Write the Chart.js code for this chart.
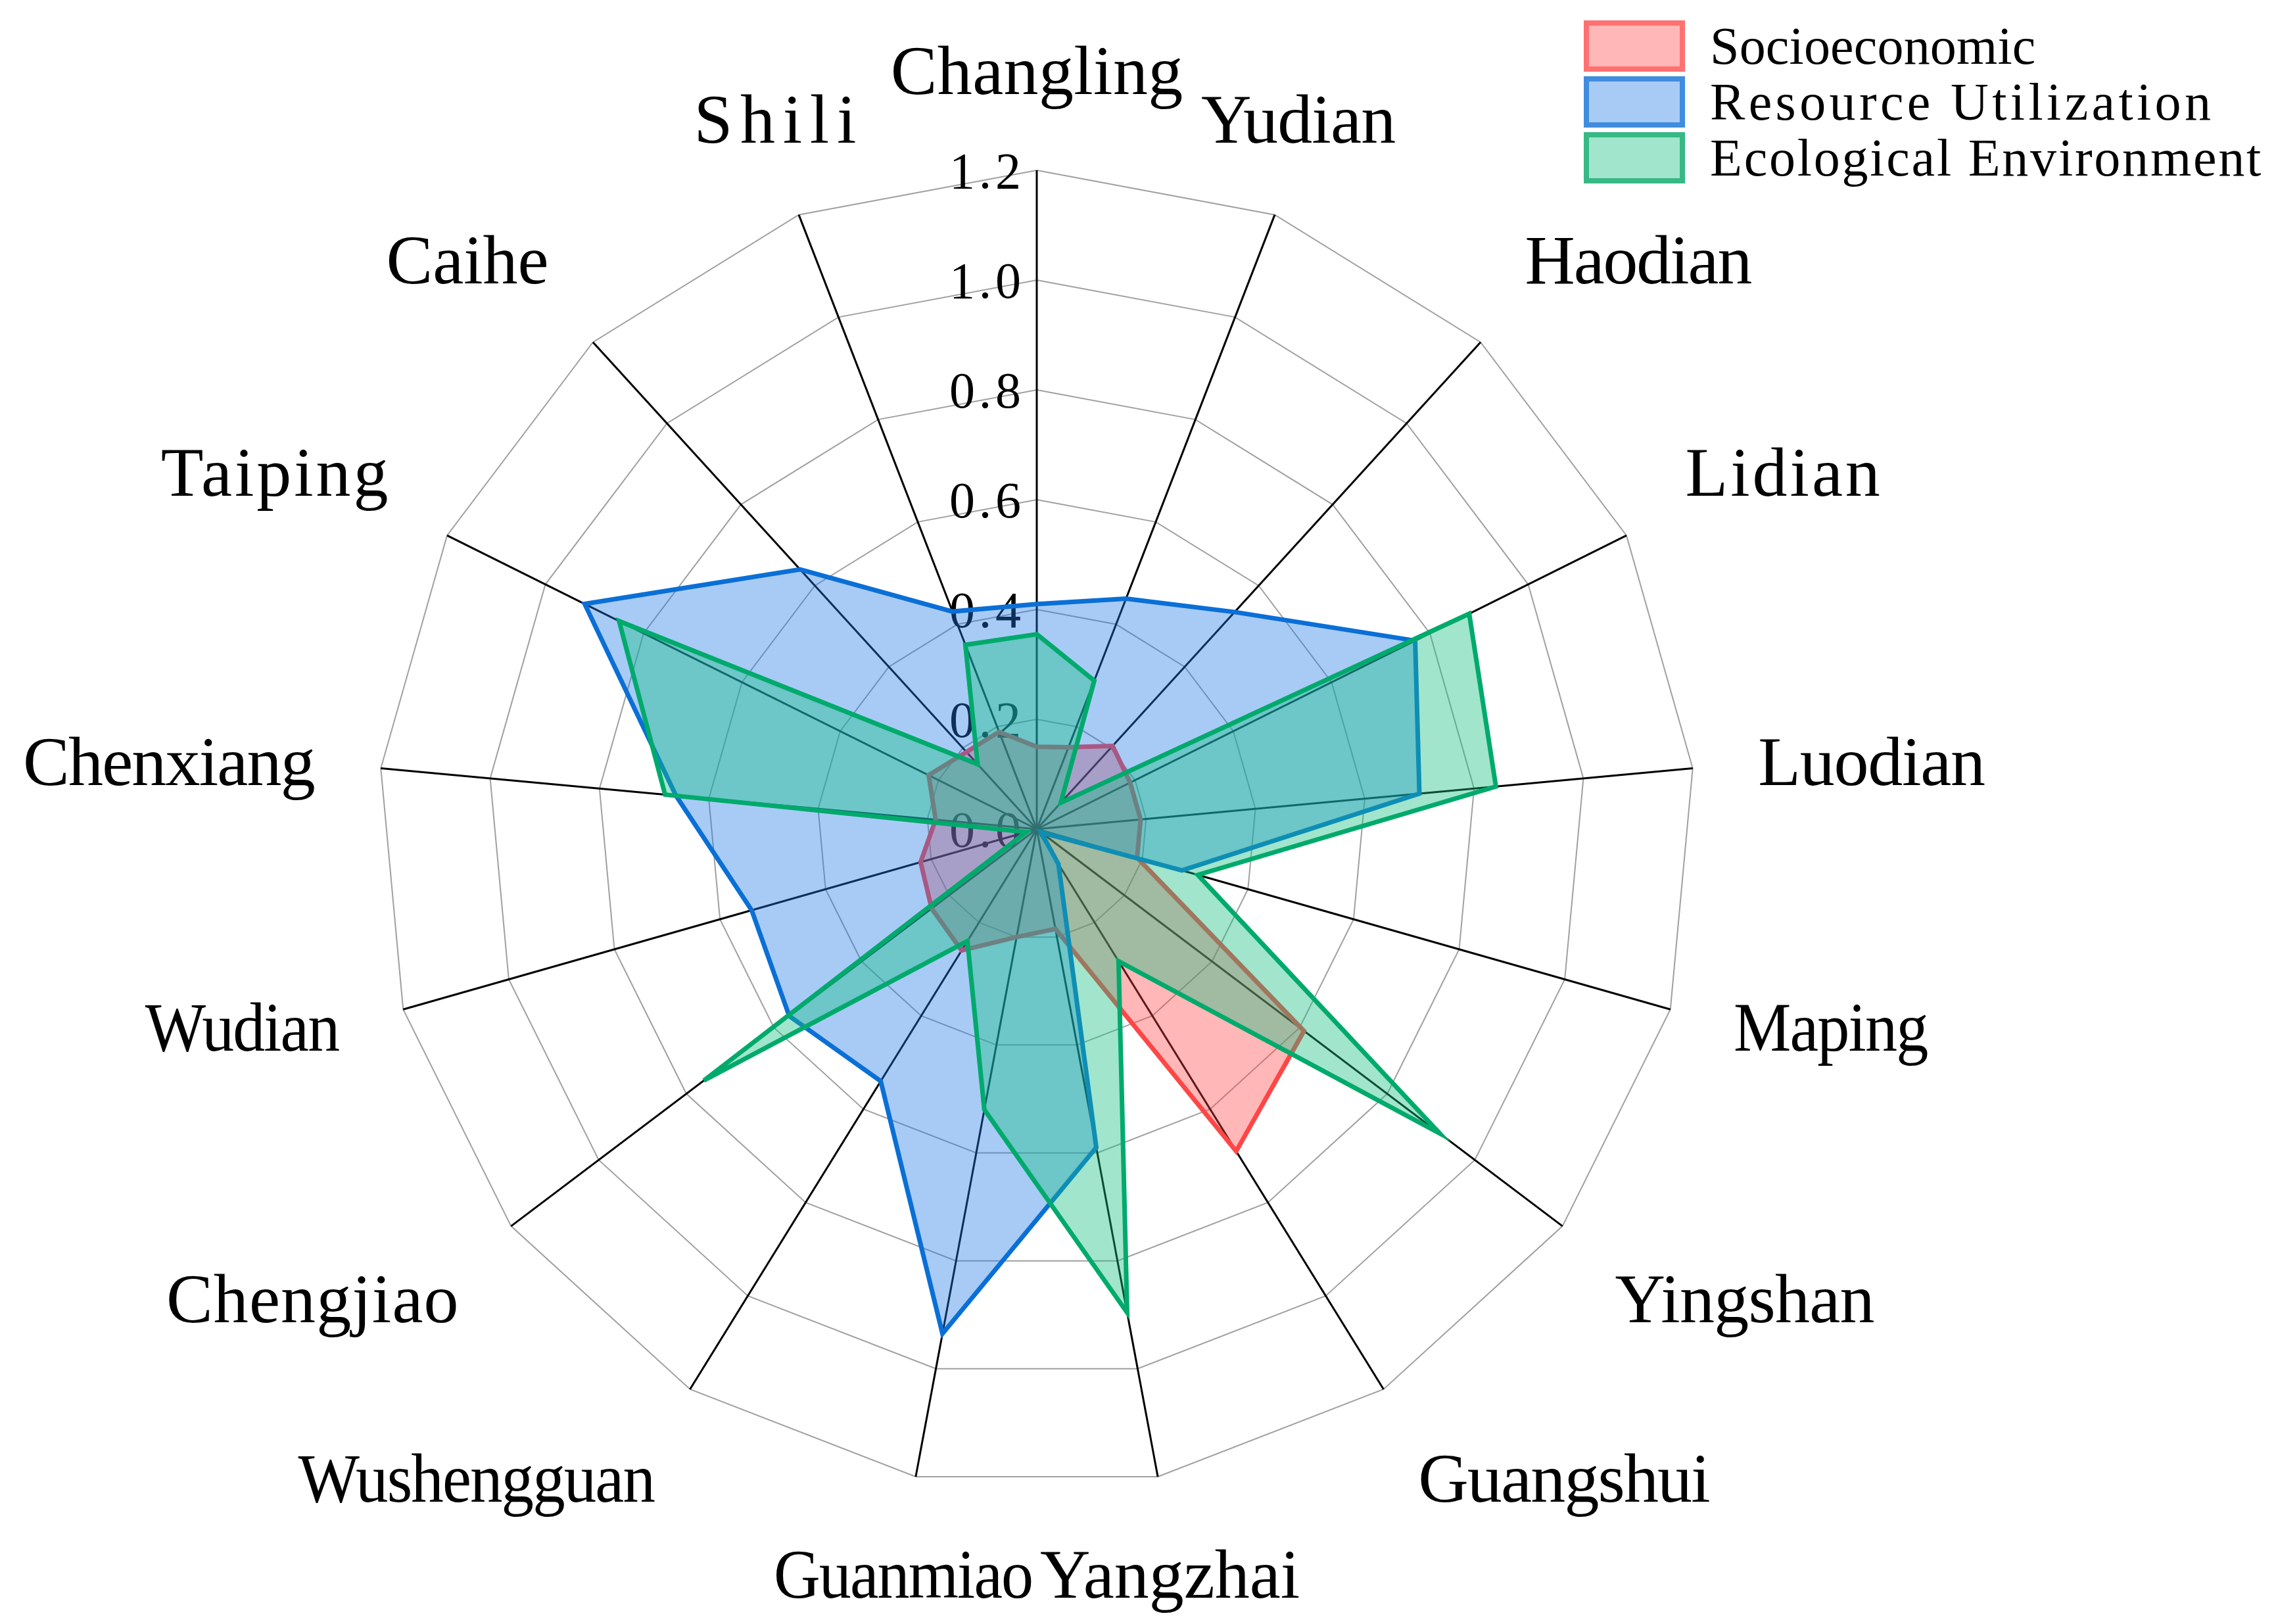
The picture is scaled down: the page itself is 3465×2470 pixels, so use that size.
<!DOCTYPE html>
<html>
<head>
<meta charset="utf-8">
<script src="https://cdn.jsdelivr.net/npm/chart.js@4.4.1/dist/chart.umd.min.js"></script>
<style>
  html, body { margin: 0; padding: 0; background: #ffffff; }
  #wrap { width: 3465px; height: 2470px; position: relative; }
  canvas { display: block; }
</style>
</head>
<body>
<div id="wrap"><canvas id="c" width="3465" height="2470"></canvas></div>
<script>
// ---- data ----
const categories = ["Changling", "Yudian", "Haodian", "Lidian", "Luodian", "Maping", "Yingshan",
  "Guangshui", "Yangzhai", "Guanmiao", "Wushengguan", "Chengjiao", "Wudian", "Chenxiang",
  "Taiping", "Caihe", "Shili"];
const seriesNames = ["Socioeconomic", "Resource Utilization", "Ecological Environment"];
const socioeconomic = [0.15, 0.16, 0.205, 0.19, 0.19, 0.19, 0.61, 0.69, 0.185, 0.20, 0.26,
  0.24, 0.22, 0.185, 0.22, 0.19, 0.19];
const resourceUtilization = [0.41, 0.45, 0.535, 0.77, 0.70, 0.275, 0.01, 0.075, 0.59, 0.935,
  0.54, 0.565, 0.54, 0.66, 0.92, 0.64, 0.425];
const ecologicalEnvironment = [0.355, 0.29, 0.065, 0.88, 0.84, 0.305, 0.92, 0.283, 0.896, 0.52,
  0.24, 0.76, 0.02, 0.68, 0.85, 0.16, 0.36];
const axisMin = 0, axisMax = 1.2, axisStep = 0.2;

// ---- styles ----
const strokeColors = ["#ff4646", "#0a6fd6", "#00aa6c"];
const fillColors = ["rgba(255,60,60,0.37)", "rgba(30,120,230,0.39)", "rgba(20,190,130,0.40)"];
const boxBorders = ["rgba(255,90,90,0.75)", "rgba(30,120,215,0.75)", "rgba(20,170,110,0.75)"];
const FONT = '"Liberation Serif", "DejaVu Serif", serif';

// draws a word so that it spans n*charW (imitating a monospaced font)
function drawSpaced(ctx, text, x, yBase, size, charW, align) {
  ctx.save();
  ctx.font = size + 'px ' + FONT;
  try { ctx.letterSpacing = '0px'; } catch (e) {}
  const nat = ctx.measureText(text).width;
  const n = text.length;
  const target = n * charW;
  let ls = n > 1 ? (target - nat) / (n - 1) : 0;
  if (ls < -2) ls = -2;
  try { ctx.letterSpacing = ls + 'px'; } catch (e) {}
  const w = nat + ls * (n - 1);
  const sx = Math.min(1, target / w);
  let left = x;
  if (align === 'right') left = x - target;
  else if (align === 'center') left = x - target / 2;
  ctx.translate(left, yBase);
  ctx.scale(sx, 1);
  ctx.textAlign = 'left';
  ctx.textBaseline = 'alphabetic';
  ctx.fillStyle = '#000';
  ctx.fillText(text, 0, 0);
  ctx.restore();
}

const textPlugin = {
  id: 'textPlugin',
  beforeDatasetsDraw(chart) {
    const s = chart.scales.r;
    const ctx = chart.ctx;
    s.ticks.forEach(t => {
      const d = s.getDistanceFromCenterForValue(t.value);
      drawSpaced(ctx, t.value.toFixed(1), s.xCenter - 24, s.yCenter - d + 27, 78, 36.3, 'right');
    });
  },
  afterDraw(chart) {
    const s = chart.scales.r;
    const ctx = chart.ctx;
    const n = categories.length;
    // point labels
    categories.forEach((name, i) => {
      const p = s.getPointPosition(i, s.drawingArea + 100);
      const b = (i * 360 / n) % 360;
      let align;
      if (b < 30 || b > 330 || Math.abs(b - 180) < 30) align = 'center';
      else if (b < 180) align = 'left';
      else align = 'right';
      let cy = p.y;
      if (Math.abs(b - 90) < 25 || Math.abs(b - 270) < 25) cy = p.y;
      else if (b < 90 || b > 270) cy = p.y - 51;
      else cy = p.y + 51;
      drawSpaced(ctx, name, p.x, cy + 35, 106, 49.4, align);
    });
    // legend
    const bx = 2409, bw = 154, bh = 78, step = 85, top0 = 31;
    seriesNames.forEach((name, k) => {
      const y = top0 + k * step;
      ctx.save();
      ctx.fillStyle = '#ffffff';
      ctx.fillRect(bx, y, bw, bh);
      ctx.fillStyle = fillColors[k];
      ctx.fillRect(bx, y, bw, bh);
      ctx.lineWidth = 8;
      ctx.strokeStyle = boxBorders[k];
      ctx.strokeRect(bx + 4, y + 4, bw - 8, bh - 8);
      ctx.restore();
      drawSpaced(ctx, name, 2601, y + bh / 2 + 27, 80, 38.1, 'left');
    });
  }
};

const seriesValues = [socioeconomic, resourceUtilization, ecologicalEnvironment];
const datasets = seriesNames.map((name, k) => ({
  label: name,
  data: seriesValues[k],
  borderColor: strokeColors[k],
  backgroundColor: fillColors[k],
  borderWidth: 7,
  borderJoinStyle: 'miter',
  pointRadius: 0,
  pointHoverRadius: 0,
  fill: true,
  tension: 0,
  order: 3 - k
}));

new Chart(document.getElementById('c'), {
  type: 'radar',
  data: { labels: categories, datasets },
  options: {
    responsive: false,
    devicePixelRatio: 1,
    animation: false,
    layout: { padding: { left: 575, right: 886, top: 259, bottom: 207 } },
    plugins: { legend: { display: false }, tooltip: { enabled: false } },
    scales: {
      r: {
        min: axisMin,
        max: axisMax,
        startAngle: 0,
        ticks: { display: false, stepSize: axisStep },
        pointLabels: { display: false },
        grid: { color: '#a0a0a0', lineWidth: 2, circular: false },
        angleLines: { display: true, color: '#000000', lineWidth: 3 }
      }
    }
  },
  plugins: [textPlugin]
});
</script>
</body>
</html>
